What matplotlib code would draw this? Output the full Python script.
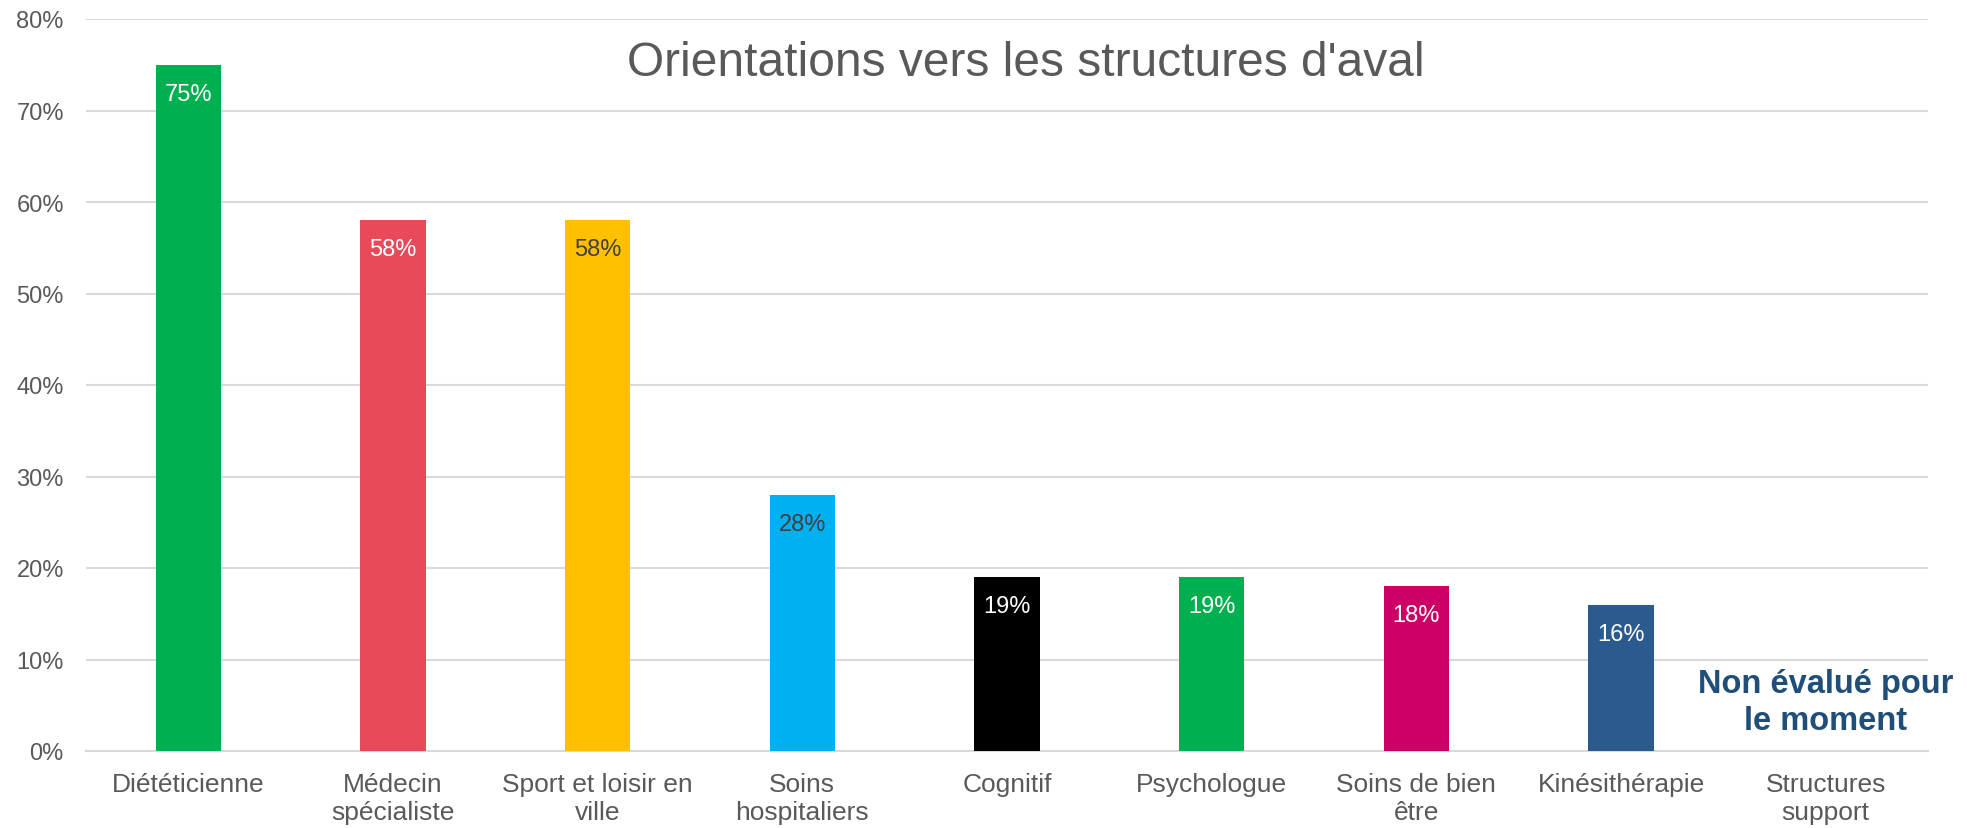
import matplotlib
matplotlib.use("Agg")
import matplotlib.pyplot as plt
from matplotlib.ticker import PercentFormatter

plt.rcParams['font.family'] = ['Liberation Sans', 'DejaVu Sans']

categories = ["Diététicienne", "Médecin\nspécialiste", "Sport et loisir en\nville", "Soins\nhospitaliers",
              "Cognitif", "Psychologue", "Soins de bien\nêtre", "Kinésithérapie", "Structures\nsupport"]
values = [75, 58, 58, 28, 19, 19, 18, 16]
bar_colors = ["#00B050", "#E84A5A", "#FFC000", "#00B0F0", "#000000", "#00B050", "#CC0066", "#2B5A8F"]
label_colors = ["white", "white", "#404040", "#404040", "white", "white", "white", "white"]
title = "Orientations vers les structures d'aval"
note = "Non évalué pour\nle moment"

fig = plt.figure(figsize=(19.67, 8.29), dpi=100)
ax = fig.add_axes([86/1967, 1-752/829, (1928-86)/1967, (752-20)/829])

x = list(range(len(categories)))
bars = ax.bar(x[:len(values)], values, width=0.32, color=bar_colors, zorder=3)
for b, v, c in zip(bars, values, label_colors):
    ax.annotate(f"{v}%", (b.get_x() + b.get_width()/2, v), xytext=(0, -21),
                textcoords="offset points", ha="center", va="center", fontsize=17, color=c, zorder=4)

ax.text(x[-1], 5.4, note, ha="center", va="center", fontsize=23.5, fontweight="bold",
        color="#1F4E79", linespacing=1.25)

ax.set_xlim(-0.5, len(categories) - 0.5)
ax.set_ylim(0, 80)
ax.set_yticks(range(0, 81, 10))
ax.yaxis.set_major_formatter(PercentFormatter(decimals=0))
ax.set_xticks(x)
ax.set_xticklabels(categories, fontsize=19, color="#595959", linespacing=1.2)
ax.tick_params(axis="y", labelsize=17, labelcolor="#595959", length=0, pad=16)
ax.tick_params(axis="x", length=0, pad=15)
ax.grid(axis="y", color="#D9D9D9", linewidth=1.5, zorder=0)
for s in ["top", "right", "left"]:
    ax.spines[s].set_visible(False)
ax.spines["bottom"].set_color("#D9D9D9")
ax.spines["bottom"].set_linewidth(1.5)

fig.text(1026/1967, 1-64/829, title, ha="center", va="center", fontsize=34.5, color="#595959")

fig.savefig("out.png", dpi=100)
